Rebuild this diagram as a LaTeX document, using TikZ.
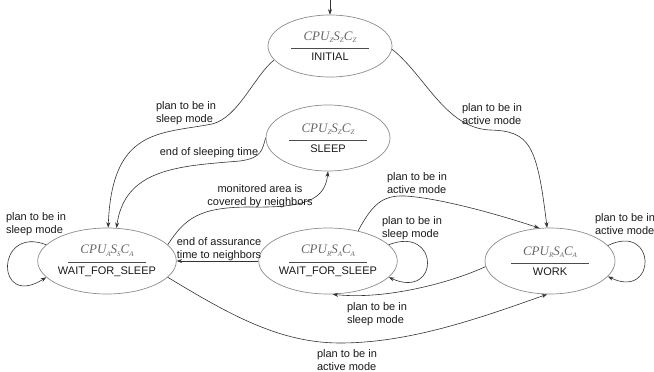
\documentclass[tikz,border=0pt]{standalone}
\usepackage{fontspec}
\setmainfont{Liberation Sans}
\newfontfamily\tms{Liberation Serif}
\usetikzlibrary{arrows.meta,shapes.geometric}
\newcommand{\subx}[1]{\raisebox{-2.5pt}{\fontsize{7}{7}\selectfont #1}}
\newcommand{\stlabel}[4]{{\tms\itshape\fontsize{13}{13}\selectfont\color{black!60}CPU\subx{#1}S\subx{#2}C\subx{#3}}\\[-5pt]{\color{black!70}\rule{78pt}{0.6pt}}\\[-1.5pt]#4}
\begin{document}
\begin{tikzpicture}[x=1pt,y=-1pt,
  stbox/.style={ellipse,draw=black!45,line width=0.7pt,inner sep=0pt,align=center,
    font=\fontsize{11}{13.5}\selectfont,text=black!90},
  arr/.style={draw=black!80,line width=0.6pt,-{Stealth[length=5.5pt,width=4pt]}},
  lbl/.style={font=\fontsize{11}{13.5}\selectfont,text=black!90,align=left,inner sep=0pt}]
\useasboundingbox (0,0) rectangle (654,372);

\node[stbox,minimum width=124pt,minimum height=62pt] (init) at (330,46) {\stlabel{Z}{Z}{Z}{INITIAL}};
\node[stbox,minimum width=124pt,minimum height=66pt] (sleep) at (328,138) {\stlabel{Z}{Z}{Z}{SLEEP}};
\node[stbox,minimum width=126pt,minimum height=66pt] (wl) at (107,261) {\stlabel{A}{S}{A}{WAIT\_FOR\_SLEEP}};
\node[stbox,minimum width=130pt,minimum height=66pt] (wm) at (328,261) {\stlabel{R}{A}{A}{WAIT\_FOR\_SLEEP}};
\node[stbox,minimum width=130pt,minimum height=66pt] (work) at (550,261) {\stlabel{R}{A}{A}{WORK}};

\coordinate (entry) at (330,0);
\draw[arr] (entry) -- (init);

% INITIAL -> WAIT left
\draw[arr] (init.194) .. controls (255,75) and (238,118) .. (212,124) .. controls (160,134) and (112,128) .. (wl.88);
\node[lbl] (l1) at (186,113) {plan to be in\\sleep mode};

% SLEEP -> WAIT left
\draw[arr] (sleep.west) .. controls (262,150) and (262,158) .. (240,161) .. controls (180,166) and (125,168) .. (wl.74);
\node[lbl] (l2) at (209,153) {end of sleeping time};

% WAIT left -> SLEEP
\draw[arr] (wl.15) .. controls (185,218) and (200,207) .. (250,207) .. controls (305,208) and (325,200) .. (sleep.south);
\node[lbl,align=center] (l3) at (260,196) {monitored area is\\covered by neighbors};

% WAIT mid -> WAIT left
\draw[arr] (wm.west) -- (wl.east);
\node[lbl] (l4) at (219,249) {end of assurance\\time to neighbors};

% WAIT mid -> WORK
\draw[arr] (wm.45) .. controls (372,205) and (382,195) .. (405,196) .. controls (440,198) and (500,215) .. (work.108);
\node[lbl] (l5) at (417,183) {plan to be in\\active mode};

% WORK -> WAIT mid
\draw[arr] (work.185) .. controls (450,283) and (385,300) .. (wm.-82);
\node[lbl] (l8) at (377,314) {plan to be in\\sleep mode};

% WAIT left -> WORK
\draw[arr] (wl.-15) .. controls (230,315) and (280,343) .. (340,343) .. controls (410,343) and (480,318) .. (work.-95);
\node[lbl] (l9) at (347,360) {plan to be in\\active mode};

% INITIAL -> WORK
\draw[arr] (init.-3) .. controls (425,75) and (445,128) .. (490,130) .. controls (530,131) and (537,145) .. (work.95);
\node[lbl] (l10) at (492,114) {plan to be in\\active mode};

% self loops
\draw[arr] (wl.165) .. controls (-5,225) and (-5,310) .. (wl.195);
\node[lbl] (l11) at (36,224) {plan to be in\\sleep mode};
\draw[arr] (wm.15) .. controls (440,225) and (440,300) .. (wm.-15);
\node[lbl] (l6) at (412,228) {plan to be in\\sleep mode};
\draw[arr] (work.15) .. controls (657,222) and (657,300) .. (work.-15);
\node[lbl] (l7) at (625,224) {plan to be in\\active mode};
\end{tikzpicture}
\end{document}
